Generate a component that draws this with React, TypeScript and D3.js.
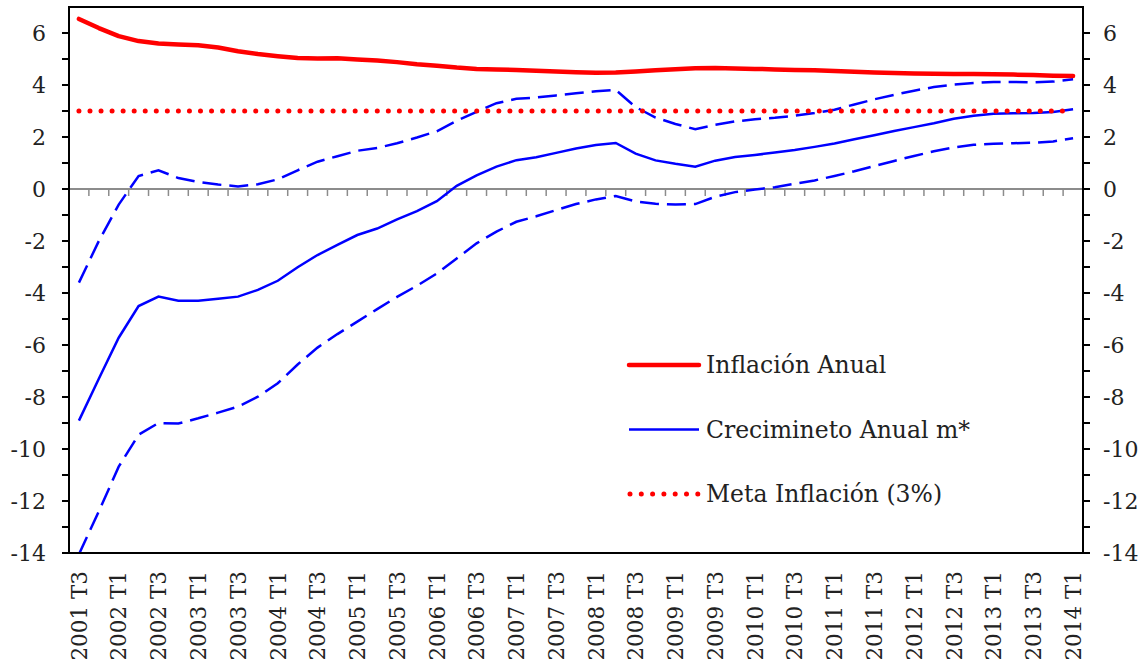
import React from 'react';
import * as d3 from 'd3';

const quarters = [
  "2001 T3","2001 T4",
  "2002 T1","2002 T2","2002 T3","2002 T4",
  "2003 T1","2003 T2","2003 T3","2003 T4",
  "2004 T1","2004 T2","2004 T3","2004 T4",
  "2005 T1","2005 T2","2005 T3","2005 T4",
  "2006 T1","2006 T2","2006 T3","2006 T4",
  "2007 T1","2007 T2","2007 T3","2007 T4",
  "2008 T1","2008 T2","2008 T3","2008 T4",
  "2009 T1","2009 T2","2009 T3","2009 T4",
  "2010 T1","2010 T2","2010 T3","2010 T4",
  "2011 T1","2011 T2","2011 T3","2011 T4",
  "2012 T1","2012 T2","2012 T3","2012 T4",
  "2013 T1","2013 T2","2013 T3","2013 T4",
  "2014 T1"
];

const inflacionAnual = [
  6.54, 6.19, 5.88, 5.69, 5.60, 5.56, 5.53, 5.44, 5.30, 5.19,
  5.11, 5.04, 5.02, 5.03, 4.98, 4.94, 4.88, 4.80, 4.74, 4.67,
  4.62, 4.60, 4.58, 4.55, 4.52, 4.49, 4.47, 4.48, 4.52, 4.57,
  4.61, 4.64, 4.65, 4.63, 4.62, 4.60, 4.58, 4.57, 4.54, 4.51,
  4.48, 4.46, 4.44, 4.43, 4.42, 4.42, 4.41, 4.40, 4.38, 4.36,
  4.35
];

const crecimientoAnual = [
  -8.91, -7.30, -5.72, -4.50, -4.14, -4.30, -4.30, -4.22, -4.14, -3.88,
  -3.53, -3.01, -2.54, -2.15, -1.77, -1.52, -1.17, -0.85, -0.47, 0.12,
  0.52, 0.86, 1.11, 1.22, 1.39, 1.56, 1.69, 1.77, 1.36, 1.10,
  0.97, 0.86, 1.09, 1.23, 1.31, 1.40, 1.50, 1.62, 1.75, 1.91,
  2.07, 2.23, 2.38, 2.53, 2.70, 2.82, 2.89, 2.91, 2.92, 2.96,
  3.07
];

const bandaSuperior = [
  -3.60, -2.00, -0.60, 0.50, 0.72, 0.42, 0.27, 0.17, 0.10, 0.18,
  0.37, 0.72, 1.05, 1.26, 1.47, 1.58, 1.76, 1.98, 2.22, 2.62,
  2.97, 3.30, 3.47, 3.52, 3.60, 3.68, 3.76, 3.81, 3.15, 2.75,
  2.50, 2.30, 2.47, 2.60, 2.68, 2.74, 2.82, 2.92, 3.05, 3.25,
  3.45, 3.62, 3.78, 3.92, 4.02, 4.08, 4.12, 4.12, 4.10, 4.13,
  4.22
];

const bandaInferior = [
  -14.05, -12.40, -10.68, -9.45, -9.00, -9.02, -8.82, -8.60, -8.37, -7.99,
  -7.47, -6.75, -6.10, -5.58, -5.10, -4.62, -4.15, -3.72, -3.25, -2.67,
  -2.09, -1.64, -1.26, -1.05, -0.81, -0.58, -0.40, -0.27, -0.48, -0.57,
  -0.60, -0.58, -0.30, -0.12, -0.02, 0.07, 0.20, 0.33, 0.50, 0.68,
  0.88, 1.08, 1.27, 1.45, 1.60, 1.70, 1.74, 1.76, 1.78, 1.83,
  1.95
];

const metaInflacion = 3;

const yMajorTicks = [-14, -12, -10, -8, -6, -4, -2, 0, 2, 4, 6];
const yMinorTicks = [-13, -11, -9, -7, -5, -3, -1, 1, 3, 5];

const legendItems = [
  { label: "Inflación Anual", kind: "red" },
  { label: "Crecimineto Anual m*", kind: "blue" },
  { label: "Meta Inflación (3%)", kind: "dot" },
];

const FONT = "'DejaVu Serif', serif";

export default function App() {
  const left = 69, right = 1083, top = 7, bottom = 553;
  const x = d3.scaleBand<string>().domain(quarters).range([left, right]).padding(0);
  const bw = x.bandwidth();
  const cx = (q: string) => (x(q) as number) + bw / 2;
  const y = d3.scaleLinear().domain([-14, 7]).range([bottom, top]);

  const line = d3.line<number>()
    .x((_, i) => cx(quarters[i]))
    .y((d) => y(d))
    .curve(d3.curveLinear);

  const metaData = quarters.map(() => metaInflacion);
  const boundaries = d3.range(quarters.length + 1).map((k) => left + k * bw);

  const legendX1 = 629, legendX2 = 699;
  const legendY = d3.scalePoint<number>().domain([0, 1, 2]).range([365, 494]);

  return (
    <svg width={1148} height={665} style={{ position: 'absolute', left: 0, top: 0, background: '#fff' }}>
      <defs>
        <clipPath id="plot">
          <rect x={left} y={top} width={right - left} height={bottom - top} />
        </clipPath>
      </defs>
      <rect x={0} y={0} width={1148} height={665} fill="#fff" />

      {/* zero axis line with category ticks */}
      <line x1={left} x2={right} y1={y(0)} y2={y(0)} stroke="#8c8c8c" strokeWidth={2} />
      {boundaries.map((bx, k) => (
        <line key={'xt' + k} x1={bx} x2={bx} y1={y(0)} y2={y(0) + 7} stroke="#8c8c8c" strokeWidth={1.5} />
      ))}

      {/* series */}
      <g clipPath="url(#plot)" fill="none">
        <path d={line(bandaInferior) || ''} stroke="#0000ff" strokeWidth={2.5} strokeDasharray="19 8" />
        <path d={line(bandaSuperior) || ''} stroke="#0000ff" strokeWidth={2.5} strokeDasharray="19 8" />
        <path d={line(crecimientoAnual) || ''} stroke="#0000ff" strokeWidth={2.5} />
        <path d={line(inflacionAnual) || ''} stroke="#ff0000" strokeWidth={4.5} strokeLinecap="round" strokeLinejoin="round" />
        <path d={line(metaData) || ''} stroke="#ff0000" strokeWidth={5} strokeDasharray="0 11.05" strokeLinecap="round" />
      </g>

      {/* frame */}
      <rect x={left} y={top} width={right - left} height={bottom - top} fill="none" stroke="#000" strokeWidth={2} />

      {/* y ticks */}
      {yMajorTicks.concat(yMinorTicks).map((v) => (
        <g key={'yt' + v}>
          <line x1={left - 7} x2={left} y1={y(v)} y2={y(v)} stroke="#000" strokeWidth={2} />
          <line x1={right} x2={right + 7} y1={y(v)} y2={y(v)} stroke="#000" strokeWidth={2} />
        </g>
      ))}
      {yMajorTicks.map((v) => (
        <g key={'yl' + v} fontFamily={FONT} fontSize={22} fill="#222">
          <text x={46} y={y(v)} dy="0.36em" textAnchor="end">{String(v)}</text>
          <text x={1103} y={y(v)} dy="0.36em" textAnchor="start">{String(v)}</text>
        </g>
      ))}

      {/* x labels */}
      {quarters.map((q, i) => i % 2 === 0 ? (
        <text key={'xl' + q} transform={`translate(${cx(q)},571) rotate(-90)`} dy="0.36em"
          textAnchor="end" fontFamily={FONT} fontSize={21.5} fill="#222">{q}</text>
      ) : null)}

      {/* legend */}
      {legendItems.map((it, i) => {
        const ly = legendY(i) as number;
        return (
          <g key={'lg' + i}>
            {it.kind === 'red' && <line x1={legendX1} x2={legendX2} y1={ly} y2={ly} stroke="#ff0000" strokeWidth={4.5} strokeLinecap="round" />}
            {it.kind === 'blue' && <line x1={legendX1} x2={legendX2} y1={ly} y2={ly} stroke="#0000ff" strokeWidth={2.5} />}
            {it.kind === 'dot' && <line x1={legendX1 + 1} x2={legendX2} y1={ly} y2={ly} stroke="#ff0000" strokeWidth={5} strokeDasharray="0 11.3" strokeLinecap="round" />}
            <text x={706} y={ly} dy="0.36em" fontFamily={FONT} fontSize={23.5} fill="#222">{it.label}</text>
          </g>
        );
      })}
    </svg>
  );
}
